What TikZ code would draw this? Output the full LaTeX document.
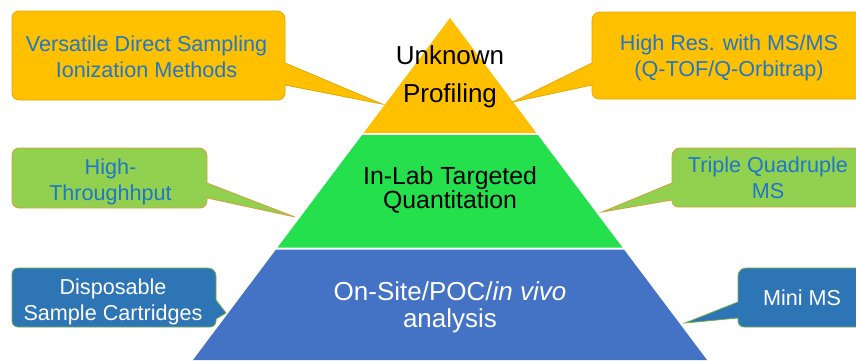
\documentclass[tikz,border=0pt]{standalone}
\usepackage{fontspec}
\setmainfont{Liberation Sans}

\definecolor{goldfill}{RGB}{255,192,0}
\definecolor{goldedge}{RGB}{226,168,0}
\definecolor{leaffill}{RGB}{146,208,80}
\definecolor{leafedge}{RGB}{214,160,60}
\definecolor{seafill}{RGB}{46,117,182}
\definecolor{seaedge}{RGB}{112,173,71}
\definecolor{tiergreen}{RGB}{35,224,76}
\definecolor{tierblue}{RGB}{68,114,196}
\definecolor{notetext}{RGB}{31,119,200}

\begin{document}
\begin{tikzpicture}[x=1pt,y=-1pt,
  calloutY/.style={fill=goldfill, draw=goldedge, line width=0.8pt},
  calloutG/.style={fill=leaffill, draw=leafedge, line width=0.8pt},
  calloutB/.style={fill=seafill, draw=seaedge, line width=0.8pt},
  note/.style={align=center, inner sep=0pt, text=notetext,
    font=\fontsize{21.6}{26}\selectfont},
  tier/.style={align=center, inner sep=0pt}]

\clip (0,0) rectangle (856,360);

% pyramid tiers
\fill[goldfill]  (450,18) -- (536.42,133) -- (363.58,133) -- cycle;
\fill[tiergreen] (362.08,135) -- (537.92,135) -- (622.46,247.5) -- (277.54,247.5) -- cycle;
\fill[tierblue]  (276.04,249.5) -- (623.96,249.5) -- (707,360) -- (193,360) -- cycle;

% tier labels
\node[tier, font=\fontsize{26}{37.5}\selectfont] (unknown) at (450,77) {Unknown\\Profiling};
\node[tier, font=\fontsize{24.8}{24}\selectfont] (inlab) at (450,189.5) {In-Lab Targeted\\Quantitation};
\node[tier, text=white, font=\fontsize{26}{27.5}\selectfont] (onsite) at (450,307.5) {On-Site/POC/\textit{in vivo}\\analysis};

% callout balloons
\path[calloutY, rounded corners=8] (12,11) -- (285,11) -- (285,37) [sharp corners] -- (285,63) -- (382,104) -- (285,85) -- (285,93) [rounded corners=7] -- (285,100) -- (12,100) -- cycle;
\path[calloutY, rounded corners=8] (866,12) -- (592,12) -- (592,37) [sharp corners] -- (592,63) -- (513,102) -- (592,85) -- (592,92) [rounded corners=7] -- (592,99) -- (866,99) -- cycle;
\path[calloutG, rounded corners=8] (12,148) -- (207,148) -- (207,165) [sharp corners] -- (207,183) -- (295,217) -- (207,198) -- (207,201) [rounded corners=7] -- (207,208) -- (12,208) -- cycle;
\path[calloutG, rounded corners=8] (866,148) -- (672,148) -- (672,165) [sharp corners] -- (672,183) -- (602,212) -- (672,200) -- (672,201) [rounded corners=6] -- (672,207) -- (866,207) -- cycle;
\path[calloutB, rounded corners=8] (12,268) -- (216,268) -- (216,284) [sharp corners] -- (216,300) -- (226,313) -- (216,319) -- (216,321) [rounded corners=6] -- (216,327) -- (12,327) -- cycle;
\path[calloutB, rounded corners=8] (866,268) -- (738,268) -- (738,285) [sharp corners] -- (738,302) -- (685,323) -- (738,318) -- (738,321) [rounded corners=6] -- (738,327) -- (866,327) -- cycle;

% callout texts
\node[note] (direct) at (146.5,57) {Versatile Direct Sampling\\Ionization Methods};
\node[note] (highres) at (729,58) {High Res. with MS/MS\\(Q-TOF/Q-Orbitrap)};
\node[note] (throughput) at (110.5,182) {High-\\Throughhput};
\node[note] (triple) at (768,178) {Triple Quadruple\\MS};
\node[note, text=white] (cartridge) at (113,302) {Disposable\\Sample Cartridges};
\node[note, text=white] (mini) at (802,298) {Mini MS};
\end{tikzpicture}
\end{document}
